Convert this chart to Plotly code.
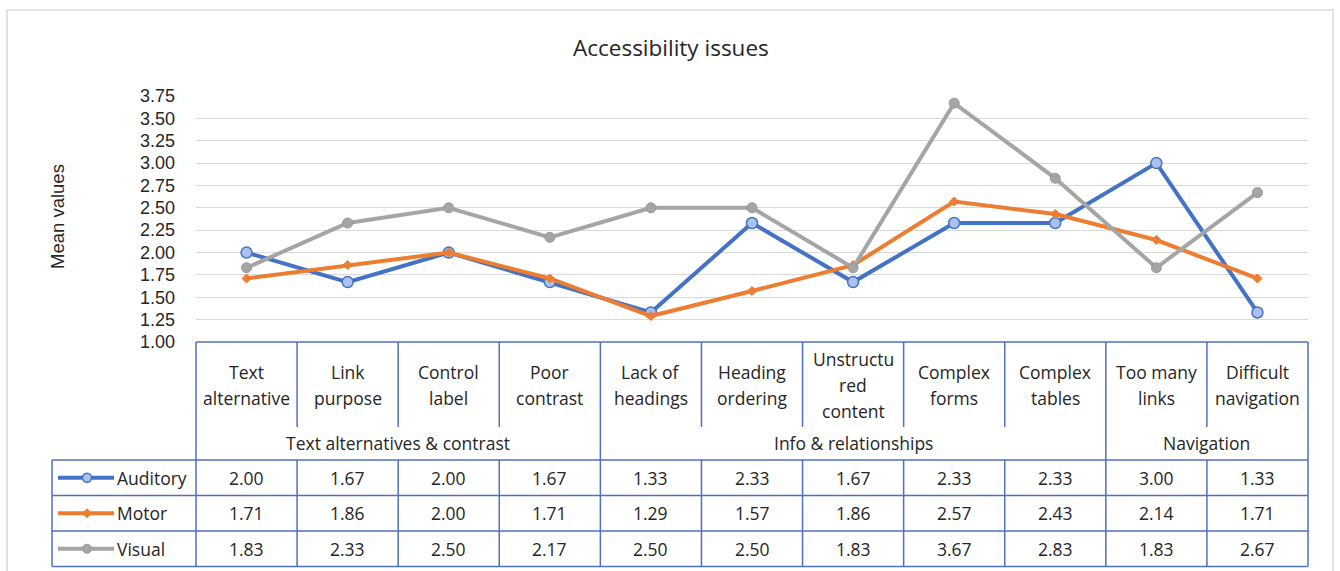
import plotly.graph_objects as go

# ---------------- data ----------------
categories = ["Text alternative", "Link purpose", "Control label", "Poor contrast",
              "Lack of headings", "Heading ordering", "Unstructured content",
              "Complex forms", "Complex tables", "Too many links", "Difficult navigation"]
category_lines = [["Text", "alternative"], ["Link", "purpose"], ["Control", "label"],
                  ["Poor", "contrast"], ["Lack of", "headings"], ["Heading", "ordering"],
                  ["Unstructu", "red", "content"], ["Complex", "forms"], ["Complex", "tables"],
                  ["Too many", "links"], ["Difficult", "navigation"]]
groups = ["Text alternatives & contrast", "Info & relationships", "Navigation"]
group_start = [0, 4, 9]
group_end = [3, 8, 10]

series_names = ["Auditory", "Motor", "Visual"]
auditory = [2.00, 1.67, 2.00, 1.67, 1.33, 2.33, 1.67, 2.33, 2.33, 3.00, 1.33]
motor = [1.71, 1.86, 2.00, 1.71, 1.29, 1.57, 1.86, 2.57, 2.43, 2.14, 1.71]
visual = [1.83, 2.33, 2.50, 2.17, 2.50, 2.50, 1.83, 3.67, 2.83, 1.83, 2.67]
y_ticks = [1.00, 1.25, 1.50, 1.75, 2.00, 2.25, 2.50, 2.75, 3.00, 3.25, 3.50, 3.75]

# ---------------- layout constants (pixels) ----------------
W, H = 1340, 571
PX0, PX1 = 196, 1308          # plot area x extent
PY_TOP, PY_BOT = 96, 342      # y of 3.75 and 1.00
LABEL_BOT = 427               # bottom of category-label area
LABEL_MID = 385
LINE_STEP = 26
ROW_Y = [460, 495.5, 531, 566.5]
LEG_X0 = 52

def px(v):
    return v / W

def py(v):
    return 1 - v / H

BLUE = "#4472C4"
ORANGE = "#ED7D31"
GRAY = "#A5A5A5"
TABLE_LINE = "#4F6FBF"
TXT = "#262626"
FONT = "Open Sans"
TSIZE = 17.5

styles = [
    dict(line=dict(color=BLUE, width=4),
         marker=dict(symbol="circle", size=11, color="#A9C1EC", line=dict(color=BLUE, width=1.5))),
    dict(line=dict(color=ORANGE, width=4),
         marker=dict(symbol="diamond", size=7, color=ORANGE, line=dict(color=ORANGE, width=1))),
    dict(line=dict(color=GRAY, width=4),
         marker=dict(symbol="circle", size=10, color=GRAY, line=dict(color="#999999", width=1))),
]
swatch_marker = [
    dict(symbol="circle", size=9, color="#A9C1EC", line=dict(color=BLUE, width=1.5)),
    dict(symbol="diamond", size=7, color=ORANGE, line=dict(color=ORANGE, width=1)),
    dict(symbol="circle", size=9, color=GRAY, line=dict(color="#999999", width=1)),
]
series = [auditory, motor, visual]

fig = go.Figure()
xs = list(range(len(categories)))
for name, vals, st in zip(series_names, series, styles):
    fig.add_trace(go.Scatter(x=xs, y=vals, mode="lines+markers", name=name,
                             line=st["line"], marker=st["marker"], showlegend=False,
                             hovertext=categories, xaxis="x", yaxis="y"))

# legend swatches in the row-label column (separate invisible subplot)
for r, (name, st, sm) in enumerate(zip(series_names, styles, swatch_marker)):
    fig.add_trace(go.Scatter(x=[6, 62], y=[r + 0.5, r + 0.5], mode="lines",
                             line=st["line"], showlegend=False, hoverinfo="skip",
                             xaxis="x2", yaxis="y2"))
    fig.add_trace(go.Scatter(x=[35], y=[r + 0.5], mode="markers",
                             marker=sm, showlegend=False, hoverinfo="skip",
                             xaxis="x2", yaxis="y2"))

shapes = []
def hline(y, x0, x1):
    shapes.append(dict(type="line", xref="paper", yref="paper", x0=px(x0), x1=px(x1),
                       y0=py(y), y1=py(y), line=dict(color=TABLE_LINE, width=1.5), layer="above"))

def vline(x, y0, y1):
    shapes.append(dict(type="line", xref="paper", yref="paper", x0=px(x), x1=px(x),
                       y0=py(y0), y1=py(y1), line=dict(color=TABLE_LINE, width=1.5), layer="above"))

# outer chart border
shapes.append(dict(type="rect", xref="paper", yref="paper", x0=px(7), x1=px(1333),
                   y0=py(575), y1=py(10), line=dict(color="#D9D9D9", width=1.5), layer="below"))

colw = (PX1 - PX0) / len(categories)
bounds = [PX0 + colw * i for i in range(len(categories) + 1)]
group_bounds = set([group_start[0]] + [e + 1 for e in group_end])
hline(PY_BOT, PX0, PX1)
for y in ROW_Y:
    hline(y, LEG_X0, PX1)
vline(LEG_X0, ROW_Y[0], ROW_Y[-1])
for i, b in enumerate(bounds):
    if i in group_bounds:
        vline(b, PY_BOT, ROW_Y[-1])
    else:
        vline(b, PY_BOT, LABEL_BOT)
        vline(b, ROW_Y[0], ROW_Y[-1])

annotations = []
annotations.append(dict(text="Accessibility issues", xref="paper", yref="paper",
                        x=px(671), y=py(47), showarrow=False, xanchor="center", yanchor="middle",
                        font=dict(family=FONT, size=22.5, color=TXT)))
annotations.append(dict(text="Mean values", xref="paper", yref="paper", textangle=-90,
                        x=px(57), y=py(217), showarrow=False, xanchor="center", yanchor="middle",
                        font=dict(family="Liberation Sans", size=18.5, color=TXT)))

for i, lines in enumerate(category_lines):
    n = len(lines)
    for k, ln in enumerate(lines):
        yc = LABEL_MID + (k - (n - 1) / 2) * LINE_STEP
        annotations.append(dict(text=ln, xref="x", yref="paper", x=i, y=py(yc),
                                showarrow=False, xanchor="center", yanchor="middle",
                                font=dict(family=FONT, size=TSIZE, color=TXT)))
for g, s, e in zip(groups, group_start, group_end):
    annotations.append(dict(text=g, xref="x", yref="paper", x=(s + e) / 2, y=py(443),
                            showarrow=False, xanchor="center", yanchor="middle",
                            font=dict(family=FONT, size=TSIZE, color=TXT)))
for r, (name, vals) in enumerate(zip(series_names, series)):
    yc = (ROW_Y[r] + ROW_Y[r + 1]) / 2
    annotations.append(dict(text=name, xref="x2", yref="paper", x=63, y=py(yc),
                            showarrow=False, xanchor="left", yanchor="middle",
                            font=dict(family=FONT, size=TSIZE, color=TXT)))
    for i, v in enumerate(vals):
        annotations.append(dict(text=f"{v:.2f}", xref="x", yref="paper", x=i, y=py(yc),
                                showarrow=False, xanchor="center", yanchor="middle",
                                font=dict(family=FONT, size=TSIZE, color=TXT)))

fig.update_layout(
    width=W, height=H, autosize=False,
    margin=dict(l=0, r=0, t=0, b=0),
    paper_bgcolor="white", plot_bgcolor="white",
    showlegend=False,
    xaxis=dict(domain=[px(PX0), px(PX1)], range=[-0.5, len(categories) - 0.5],
               showgrid=False, zeroline=False, showticklabels=False, showline=False,
               fixedrange=True),
    yaxis=dict(domain=[py(PY_BOT), py(PY_TOP)], range=[1.0, 3.75], tickvals=y_ticks,
               tickformat=".2f", showgrid=True, gridcolor="#D9D9D9", gridwidth=1.3,
               zeroline=False, showline=False, ticks="", ticklabelstandoff=20,
               tickfont=dict(family="Liberation Sans", size=18, color=TXT),
               automargin=False, fixedrange=True),
    xaxis2=dict(domain=[px(LEG_X0), px(PX0)], range=[0, PX0 - LEG_X0], visible=False,
                anchor="y2", fixedrange=True),
    yaxis2=dict(domain=[py(ROW_Y[-1]), py(ROW_Y[0])], range=[3, 0], visible=False,
                anchor="x2", fixedrange=True),
    shapes=shapes,
    annotations=annotations,
)

fig.write_html("out.html")
